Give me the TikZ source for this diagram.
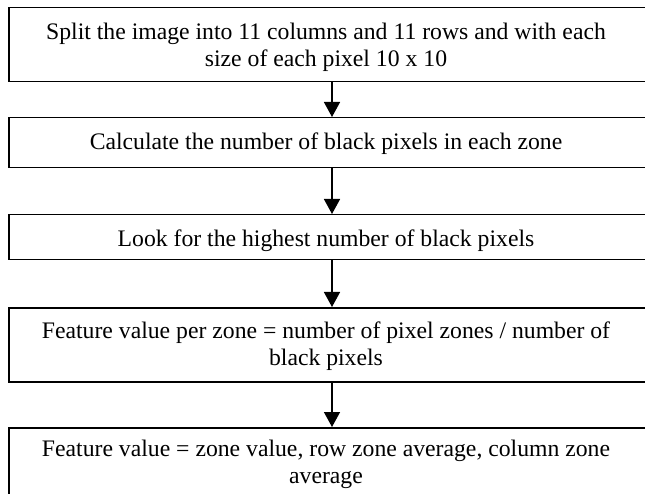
\documentclass[tikz,border=0pt]{standalone}
\usepackage{fontspec}
\setmainfont{Liberation Serif}
\usetikzlibrary{arrows.meta}

\tikzset{
  stepbox/.style={draw=black, line width=1.5pt, fill=none, rectangle,
    inner sep=0pt, anchor=north west, minimum width=639pt},
  % anchor=base sits on the last line of a wrapped text
  steptext/.style={inner sep=0pt, align=center, anchor=base,
    font=\fontsize{23.7}{27}\selectfont},
  flow/.style={draw=black, line width=1.5pt,
    -{Triangle[width=16pt,length=15pt]}}
}

\begin{document}
\begin{tikzpicture}[x=1pt, y=-1pt]
  \useasboundingbox (0,0) rectangle (645,494);

  % process boxes (right edge and last bottom run past the page)
  \node[stepbox, minimum height=74pt] (b1) at (8,7) {};
  \node[stepbox, minimum height=50pt] (b2) at (8,117) {};
  \node[stepbox, minimum height=45pt] (b3) at (8,214) {};
  \node[stepbox, minimum height=74pt] (b4) at (8,307) {};
  \node[stepbox, minimum height=80pt] (b5) at (8,427) {};

  % step texts
  \node[steptext] (t1) at (326,67)
    {Split the image into 11 columns and 11 rows and with each\\size of each pixel 10 x 10};
  \node[steptext] (t2) at (326,150)
    {Calculate the number of black pixels in each zone};
  \node[steptext] (t3) at (326,247)
    {Look for the highest number of black pixels};
  \node[steptext] (t4) at (326,365)
    {Feature value per zone = number of pixel zones / number of\\black pixels};
  \node[steptext] (t5) at (326,483)
    {Feature value = zone value, row zone average, column zone\\average};

  % connectors
  \coordinate (ax) at (332,0);
  \draw[flow] (b1.south -| ax) -- (b2.north -| ax);
  \draw[flow] (b2.south -| ax) -- (b3.north -| ax);
  \draw[flow] (b3.south -| ax) -- (b4.north -| ax);
  \draw[flow] (b4.south -| ax) -- (b5.north -| ax);
\end{tikzpicture}
\end{document}
